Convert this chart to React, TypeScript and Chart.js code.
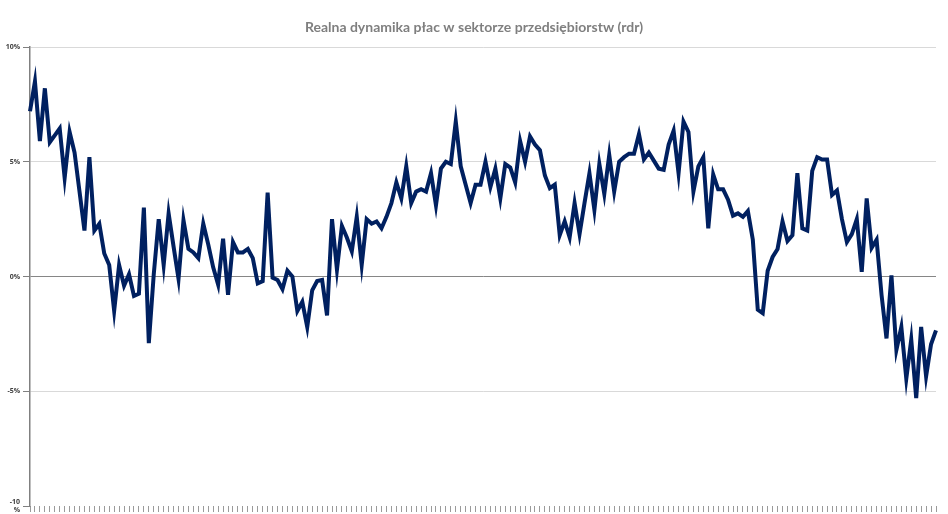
import { useEffect, useRef } from 'react'
import { Chart, registerables } from 'chart.js'

Chart.register(...registerables)

const TITLE = 'Realna dynamika płac w sektorze przedsiębiorstw (rdr)'

const values = [
  7.2, 8.5, 5.9, 8.2, 5.85, 6.15, 6.45, 4.3, 6.3, 5.4,
  3.7, 2.0, 5.2, 2.0, 2.3, 1.0, 0.5, -1.5, 0.5, -0.4,
  0.1, -0.85, -0.75, 3.0, -2.9, 0.1, 2.5, 0.5, 2.75, 1.3,
  -0.1, 2.45, 1.2, 1.05, 0.8, 2.3, 1.4, 0.4, -0.35, 1.65,
  -0.8, 1.5, 1.05, 1.05, 1.2, 0.8, -0.3, -0.2, 3.65, -0.05,
  -0.15, -0.55, 0.25, 0.0, -1.5, -1.1, -2.2, -0.6, -0.2, -0.15,
  -1.7, 2.5, 0.3, 2.2, 1.7, 1.1, 2.6, 0.5, 2.5, 2.3,
  2.4, 2.1, 2.6, 3.2, 4.1, 3.4, 4.8, 3.2, 3.7, 3.8,
  3.7, 4.5, 3.1, 4.7, 5.0, 4.9, 6.75, 4.8, 4.0, 3.2,
  4.0, 4.0, 5.0, 3.9, 4.7, 3.4, 4.9, 4.75, 4.1, 5.9,
  5.0, 6.1, 5.75, 5.5, 4.4, 3.85, 4.0, 1.8, 2.4, 1.7,
  3.2, 1.85, 3.2, 4.5, 2.9, 4.9, 3.6, 5.3, 3.7, 5.0,
  5.2, 5.35, 5.35, 6.2, 5.1, 5.4, 5.05, 4.7, 4.65, 5.75,
  6.35, 4.5, 6.75, 6.3, 3.7, 4.8, 5.2, 2.1, 4.45, 3.8,
  3.8, 3.35, 2.65, 2.75, 2.6, 2.85, 1.6, -1.45, -1.6, 0.25,
  0.85, 1.2, 2.4, 1.55, 1.8, 4.5, 2.1, 2.0, 4.6, 5.2,
  5.1, 5.1, 3.55, 3.75, 2.5, 1.5, 1.85, 2.5, 0.2, 3.4,
  1.25, 1.6, -0.8, -2.7, 0.05, -3.2, -2.2, -4.45, -2.75, -5.3,
  -2.2, -4.35, -2.95, -2.35,
]

// the x axis has no visible labels, only a tick per month
const categories = values.map((_, i) => String(i + 1))

const yMin = -10
const yMax = 10
const yStep = 5

export default function App() {
  const canvasRef = useRef<HTMLCanvasElement | null>(null)
  const chartRef = useRef<Chart | null>(null)

  useEffect(() => {
    chartRef.current?.destroy()
    const ctx = canvasRef.current?.getContext('2d')
    if (!ctx) return

    chartRef.current = new Chart(ctx, {
      type: 'line',
      data: {
        labels: categories,
        datasets: [
          {
            data: values,
            borderColor: '#002060',
            borderWidth: 4,
            pointRadius: 0,
            tension: 0,
            fill: false,
          },
        ],
      },
      options: {
        responsive: false,
        animation: false,
        layout: { padding: 0 },
        plugins: {
          legend: { display: false },
          tooltip: { enabled: false },
          title: {
            display: true,
            text: TITLE,
            color: '#7f7f7f',
            font: { family: 'Lato', size: 14, weight: 'bold' },
            padding: { top: 19, bottom: 11.2 },
          },
        },
        scales: {
          x: {
            type: 'category',
            offset: false,
            border: { display: false },
            grid: {
              drawOnChartArea: false,
              drawTicks: true,
              tickLength: 6,
              color: '#9a9a9a',
              offset: false,
            },
            ticks: { autoSkip: false, maxRotation: 0, callback: () => '' },
            afterFit: (s: any) => {
              s.height = 8
              s.paddingLeft = 0
              s.paddingRight = 0
            },
          },
          y: {
            min: yMin,
            max: yMax,
            border: { color: '#808080', width: 1.5 },
            grid: {
              color: (c: any) =>
                c.tick?.value === 0 ? '#868686' : c.tick?.value === yMin ? 'rgba(0,0,0,0)' : '#d9d9d9',
              tickColor: '#808080',
              tickLength: 7,
            },
            ticks: {
              stepSize: yStep,
              padding: 3,
              color: '#404040',
              font: { family: 'Open Sans', size: 7, weight: 'bold' },
              callback: (v: any) => (Number(v) === yMin ? [String(v), '%'] : `${v}%`),
            },
            afterFit: (s: any) => {
              s.width = 30
              s.paddingTop = 0
              s.paddingBottom = 0
            },
          },
          // empty right-hand strip so the title stays centred on the whole canvas
          yRight: {
            position: 'right',
            min: yMin,
            max: yMax,
            border: { display: false },
            grid: { display: false },
            ticks: { display: false },
            afterFit: (s: any) => {
              s.width = 12
              s.paddingTop = 0
              s.paddingBottom = 0
            },
          },
        },
      },
    })

    return () => {
      chartRef.current?.destroy()
      chartRef.current = null
    }
  }, [])

  return (
    <div style={{ position: 'absolute', left: 0, top: 0, width: 948, height: 514, background: '#fff' }}>
      <canvas ref={canvasRef} width={948} height={514} />
    </div>
  )
}
